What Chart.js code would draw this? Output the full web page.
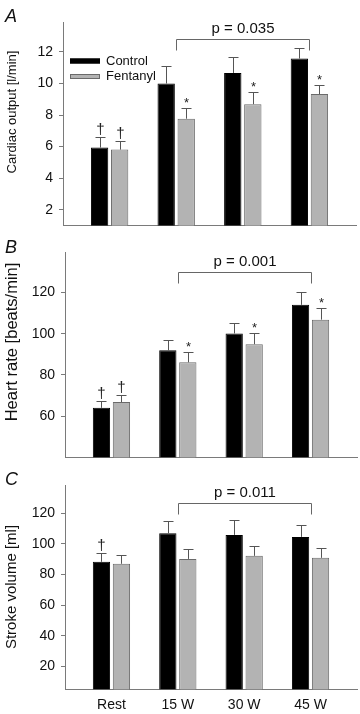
<!DOCTYPE html>
<html lang="en">
<head>
<meta charset="UTF-8">
<title>Cardiac output, heart rate and stroke volume</title>
<style>
    body { margin: 0; padding: 0; background: #fff; }
    .wrap { position: relative; width: 360px; height: 714px; overflow: hidden; }
    canvas { position: absolute; left: 0; }
</style>
</head>
<body>
<div class="wrap">
    <canvas id="chartA" width="360" height="245" style="top:0"></canvas>
    <canvas id="chartB" width="360" height="245" style="top:232px"></canvas>
    <canvas id="chartC" width="360" height="246" style="top:468px"></canvas>
</div>

<script src="https://cdn.jsdelivr.net/npm/chart.js"></script>
<script>
// ---- data ----
const categories = ['Rest', '15 W', '30 W', '45 W'];
const seriesNames = ['Control', 'Fentanyl'];

// A: cardiac output [l/min]
const coControl = [5.94, 10.0, 10.67, 11.58];
const coControlErr = [0.69, 1.09, 1.01, 0.67];
const coFentanyl = [5.81, 7.77, 8.69, 9.33];
const coFentanylErr = [0.53, 0.70, 0.76, 0.57];
const coMarksControl = ['†', '', '', ''];
const coMarksFentanyl = ['†', '*', '*', '*'];
const coTicks = [2, 4, 6, 8, 10, 12];
const coP = 'p = 0.035';

// B: heart rate [beats/min]
const hrControl = [64.0, 91.9, 100.1, 114.0];
const hrControlErr = [3.2, 5.1, 4.9, 6.0];
const hrFentanyl = [66.8, 86.1, 94.9, 106.8];
const hrFentanylErr = [3.3, 4.8, 5.3, 5.6];
const hrMarksControl = ['†', '', '', ''];
const hrMarksFentanyl = ['†', '*', '*', '*'];
const hrTicks = [60, 80, 100, 120];
const hrP = 'p = 0.001';

// C: stroke volume [ml]
const svControl = [88.3, 107.0, 105.9, 104.6];
const svControlErr = [5.6, 8.2, 9.8, 7.6];
const svFentanyl = [87.0, 90.2, 92.2, 90.9];
const svFentanylErr = [5.8, 6.5, 6.7, 6.3];
const svMarksControl = ['†', '', '', ''];
const svMarksFentanyl = ['', '', '', ''];
const svTicks = [20, 40, 60, 80, 100, 120];
const svP = 'p = 0.011';

// bracket runs from 15 W to 45 W
const bracketFrom = 1;
const bracketTo = 3;

const FONT = 'Arial, "Liberation Sans", sans-serif';
const AXIS = '#7a7a7a';

// error bars + significance marks
const errorBars = {
    id: 'errorBars',
    afterDatasetsDraw(chart) {
        const ctx = chart.ctx;
        const y = chart.scales.y;
        chart.data.datasets.forEach(function (ds, di) {
            const meta = chart.getDatasetMeta(di);
            meta.data.forEach(function (bar, i) {
                const bx = Math.round(bar.x) + 0.5;
                const top = Math.round(y.getPixelForValue(ds.data[i].y + ds.errors[i])) + 0.5;
                ctx.save();
                ctx.strokeStyle = '#555';
                ctx.lineWidth = 1;
                ctx.beginPath();
                ctx.moveTo(bx, bar.y);
                ctx.lineTo(bx, top);
                ctx.moveTo(bx - 5, top);
                ctx.lineTo(bx + 5, top);
                ctx.stroke();
                const m = ds.marks[i];
                if (m) {
                    ctx.fillStyle = '#222';
                    ctx.textAlign = 'center';
                    ctx.textBaseline = 'alphabetic';
                    if (m === '†') {
                        ctx.font = '15px ' + FONT;
                        ctx.fillText(m, bx, top - 4);
                    } else {
                        ctx.font = '13px ' + FONT;
                        ctx.fillText(m, bx, top - 2);
                    }
                }
                ctx.restore();
            });
        });
    }
};

// panel letter, axis title, p bracket, legend
const decor = {
    id: 'decor',
    afterDraw(chart, args, o) {
        const ctx = chart.ctx;
        const x = chart.scales.x, y = chart.scales.y;
        ctx.save();
        ctx.fillStyle = '#111';
        ctx.font = 'italic 18px ' + FONT;
        ctx.textAlign = 'left';
        ctx.textBaseline = 'alphabetic';
        ctx.fillText(o.letter, 5, o.letterY);

        ctx.save();
        ctx.translate(12, o.titleY);
        ctx.rotate(-Math.PI / 2);
        ctx.font = o.titleSize + 'px ' + FONT;
        ctx.textAlign = 'center';
        ctx.textBaseline = 'middle';
        ctx.fillText(o.title, 0, 0);
        ctx.restore();

        const x1 = Math.round(x.getPixelForValue(bracketFrom)) + 0.5;
        const x2 = Math.round(x.getPixelForValue(bracketTo)) + 0.5;
        const by = Math.round(y.getPixelForValue(o.bracketLevel)) + 0.5;
        ctx.strokeStyle = '#666';
        ctx.lineWidth = 1;
        ctx.beginPath();
        ctx.moveTo(x1, by + 11);
        ctx.lineTo(x1, by);
        ctx.lineTo(x2, by);
        ctx.lineTo(x2, by + 11);
        ctx.stroke();
        ctx.font = '15px ' + FONT;
        ctx.textAlign = 'center';
        ctx.textBaseline = 'middle';
        ctx.fillText(o.pText, (x1 + x2) / 2, by - 11);

        if (o.legend) {
            chart.data.datasets.forEach(function (ds, i) {
                const ly = o.legend.y + i * 15.5;
                ctx.fillStyle = ds.backgroundColor;
                ctx.fillRect(o.legend.x, ly - 2.5, 30, 5);
                ctx.strokeStyle = ds.borderColor;
                ctx.strokeRect(o.legend.x + 0.5, ly - 2.5 + 0.5, 29, 4);
                ctx.fillStyle = '#111';
                ctx.font = '13px ' + FONT;
                ctx.textAlign = 'left';
                ctx.textBaseline = 'middle';
                ctx.fillText(ds.label, o.legend.x + 36, ly);
            });
        }
        ctx.restore();
    }
};

function points(values) {
    return values.map(function (v, i) { return { x: i, y: v }; });
}

function makePanel(id, p) {
    const canvas = document.getElementById(id);
    const H = canvas.height;
    const xh = p.showX ? 24 : 0;
    return new Chart(canvas, {
        type: 'bar',
        data: {
            datasets: [{
                label: seriesNames[0],
                data: points(p.control),
                errors: p.controlErr,
                marks: p.marksControl,
                backgroundColor: '#000000',
                borderColor: '#000000',
                borderWidth: 1
            }, {
                label: seriesNames[1],
                data: points(p.fentanyl),
                errors: p.fentanylErr,
                marks: p.marksFentanyl,
                backgroundColor: '#b3b3b3',
                borderColor: '#6a6a6a',
                borderWidth: 1
            }]
        },
        options: {
            responsive: false,
            animation: false,
            categoryPercentage: 0.602,
            barPercentage: 0.865,
            layout: {
                padding: { left: 0, top: p.area.top, right: 360 - p.area.right, bottom: H - p.area.bottom - xh }
            },
            plugins: {
                legend: { display: false },
                tooltip: { enabled: false },
                decor: {
                    letter: p.letter, letterY: p.letterY,
                    title: p.title, titleY: p.titleY, titleSize: p.titleSize,
                    bracketLevel: p.bracketLevel, pText: p.pText,
                    legend: p.legend
                }
            },
            scales: {
                x: {
                    type: 'linear',
                    min: -0.7,
                    max: 3.7,
                    offset: false,
                    grid: { display: false, drawTicks: false, offset: false },
                    border: { display: true, color: AXIS, width: 1 },
                    afterBuildTicks: function (s) {
                        s.ticks = categories.map(function (c, i) { return { value: i }; });
                    },
                    afterFit: function (s) { s.height = xh; },
                    ticks: {
                        display: p.showX,
                        padding: 7,
                        color: '#111',
                        font: { family: FONT, size: 14 },
                        callback: function (v) { return categories[v]; }
                    }
                },
                y: {
                    min: p.yMin,
                    max: p.yMax,
                    afterBuildTicks: function (s) {
                        s.ticks = p.ticks.map(function (v) { return { value: v }; });
                    },
                    afterFit: function (s) { s.width = p.area.left; },
                    grid: { drawOnChartArea: false, drawTicks: true, tickLength: 4, color: AXIS },
                    border: { display: true, color: AXIS, width: 1 },
                    ticks: {
                        padding: 6,
                        color: '#111',
                        font: { family: FONT, size: 14 }
                    }
                }
            }
        },
        plugins: [errorBars, decor]
    });
}

makePanel('chartA', {
    control: coControl, controlErr: coControlErr,
    fentanyl: coFentanyl, fentanylErr: coFentanylErr,
    marksControl: coMarksControl, marksFentanyl: coMarksFentanyl,
    ticks: coTicks, yMin: 1, yMax: 13.9,
    area: { left: 63, right: 356, top: 22, bottom: 225.5 },
    letter: 'A', letterY: 21.7,
    title: 'Cardiac output [l/min]', titleY: 112, titleSize: 13,
    bracketLevel: 12.85, pText: coP,
    legend: { x: 70, y: 61 },
    showX: false
});

makePanel('chartB', {
    control: hrControl, controlErr: hrControlErr,
    fentanyl: hrFentanyl, fentanylErr: hrFentanylErr,
    marksControl: hrMarksControl, marksFentanyl: hrMarksFentanyl,
    ticks: hrTicks, yMin: 40, yMax: 139.5,
    area: { left: 65, right: 357, top: 20.3, bottom: 225.3 },
    letter: 'B', letterY: 21.3,
    title: 'Heart rate [beats/min]', titleY: 110, titleSize: 16.5,
    bracketLevel: 130, pText: hrP,
    legend: null,
    showX: false
});

makePanel('chartC', {
    control: svControl, controlErr: svControlErr,
    fentanyl: svFentanyl, fentanylErr: svFentanylErr,
    marksControl: svMarksControl, marksFentanyl: svMarksFentanyl,
    ticks: svTicks, yMin: 5, yMax: 138.5,
    area: { left: 65, right: 357, top: 17, bottom: 221.3 },
    letter: 'C', letterY: 17,
    title: 'Stroke volume [ml]', titleY: 119, titleSize: 15,
    bracketLevel: 126.5, pText: svP,
    legend: null,
    showX: true
});
</script>
</body>
</html>
